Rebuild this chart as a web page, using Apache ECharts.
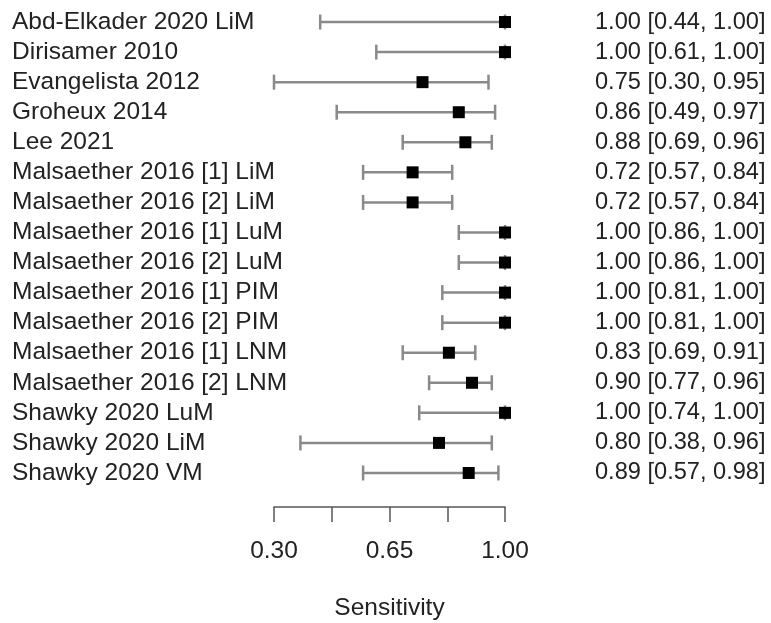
<!DOCTYPE html>
<html><head><meta charset="utf-8">
<script src="https://cdn.jsdelivr.net/npm/echarts@6/dist/echarts.min.js"></script>
<style>html,body{margin:0;padding:0;background:#fff}#c{width:771px;height:623px}</style>
</head><body><div id="c"></div>
<script>
const studies = ["Abd-Elkader 2020 LiM","Dirisamer 2010","Evangelista 2012","Groheux 2014","Lee 2021",
"Malsaether 2016 [1] LiM","Malsaether 2016 [2] LiM","Malsaether 2016 [1] LuM","Malsaether 2016 [2] LuM",
"Malsaether 2016 [1] PIM","Malsaether 2016 [2] PIM","Malsaether 2016 [1] LNM","Malsaether 2016 [2] LNM",
"Shawky 2020 LuM","Shawky 2020 LiM","Shawky 2020 VM"];
const estimate = [1.00,1.00,0.75,0.86,0.88,0.72,0.72,1.00,1.00,1.00,1.00,0.83,0.90,1.00,0.80,0.89];
const lower =    [0.44,0.61,0.30,0.49,0.69,0.57,0.57,0.86,0.86,0.81,0.81,0.69,0.77,0.74,0.38,0.57];
const upper =    [1.00,1.00,0.95,0.97,0.96,0.84,0.84,1.00,1.00,1.00,1.00,0.91,0.96,1.00,0.96,0.98];
const tickLabels = ["0.30","","0.65","","1.00"];
const axisTitle = "Sensitivity";

const rightLabels = estimate.map((e,i)=>e.toFixed(2)+" ["+lower[i].toFixed(2)+", "+upper[i].toFixed(2)+"]");
const FONT = "'Liberation Sans', Arial, Helvetica, sans-serif";
const FS = 24.5;
const chart = echarts.init(document.getElementById('c'), null, {renderer:'canvas'});
chart.setOption({
  animation:false,
  grid:{left:274, right:266, top:7, bottom:135, containLabel:false, outerBoundsMode:'none'},
  xAxis:{type:'value', min:0.3, max:1.0, interval:0.175, offset:19,
    splitLine:{show:false},
    axisLine:{show:true, lineStyle:{color:'#555', width:1.5}},
    axisTick:{show:true, inside:false, length:15, lineStyle:{color:'#555', width:1.5}},
    axisLabel:{margin:32, fontSize:FS, fontFamily:FONT, color:'#222', hideOverlap:false,
      formatter:(v)=>{const k=Math.round((v-0.3)/0.175); return tickLabels[k]||'';}},
    name:axisTitle, nameLocation:'middle', nameGap:89,
    nameTextStyle:{fontSize:FS, fontFamily:FONT, color:'#222'}
  },
  yAxis:[
    {type:'category', data:studies, inverse:true, axisLine:{show:false}, axisTick:{show:false},
     axisLabel:{interval:0, hideOverlap:false, align:'left', margin:262, fontSize:FS, fontFamily:FONT, color:'#222'}},
    {type:'category', data:rightLabels, inverse:true, position:'right', axisLine:{show:false}, axisTick:{show:false},
     axisLabel:{interval:0, hideOverlap:false, align:'left', margin:90, fontSize:23.6, fontFamily:FONT, color:'#222'}}
  ],
  series:[
    {type:'custom', clip:false,
     data:studies.map((s,i)=>[lower[i], upper[i], i]),
     renderItem:(params, api)=>{
       const p1 = api.coord([api.value(0), api.value(2)]);
       const p2 = api.coord([api.value(1), api.value(2)]);
       const h = 7.5;
       const st = {stroke:'#8a8a8a', lineWidth:2.5};
       return {type:'group', children:[
         {type:'line', shape:{x1:p1[0],y1:p1[1],x2:p2[0],y2:p2[1]}, style:st},
         {type:'line', shape:{x1:p1[0],y1:p1[1]-h,x2:p1[0],y2:p1[1]+h}, style:st},
         {type:'line', shape:{x1:p2[0],y1:p2[1]-h,x2:p2[0],y2:p2[1]+h}, style:st}
       ]};
     }},
    {type:'scatter', clip:false, symbol:'rect', symbolSize:12,
     itemStyle:{color:'#000', opacity:1},
     data:studies.map((s,i)=>[estimate[i], i]), z:5}
  ]
});
</script></body></html>
